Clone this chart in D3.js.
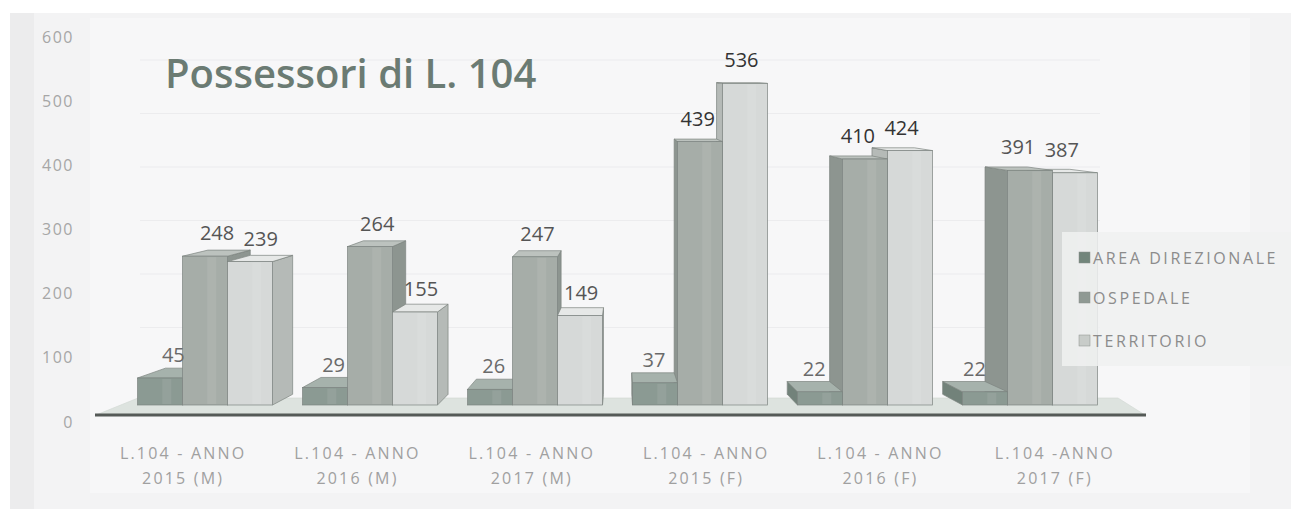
<!DOCTYPE html>
<html><head><meta charset="utf-8">
<script src="https://cdn.jsdelivr.net/npm/d3@7/dist/d3.min.js"></script>
<style>
html,body{margin:0;padding:0;background:#fff;}
svg{display:block;}
</style></head>
<body>
<svg id="chart" width="1291" height="509"></svg>
<script>
// ---- data ----
const categories = ["L.104 - ANNO 2015 (M)","L.104 - ANNO 2016 (M)","L.104 - ANNO 2017 (M)","L.104 - ANNO 2015 (F)","L.104 - ANNO 2016 (F)","L.104 -ANNO 2017 (F)"];
const series = ["AREA DIREZIONALE","OSPEDALE","TERRITORIO"];
const areaDirezionale = [45,29,26,37,22,22];
const ospedale = [248,264,247,439,410,391];
const territorio = [239,155,149,536,424,387];
const yTicks = [0,100,200,300,400,500,600];
const title = "Possessori di L. 104";

const values = [areaDirezionale, ospedale, territorio];
const colors = {
  "AREA DIREZIONALE": {front:"#8b9a93", side:"#72827a", top:"#a6b2ac", legend:"#72857b"},
  "OSPEDALE":         {front:"#a6ada8", side:"#8d9590", top:"#bcc2be", legend:"#8f9993"},
  "TERRITORIO":       {front:"#d6d9d8", side:"#b5bab7", top:"#e6e8e7", legend:"#c8ccc9"}
};

const svg = d3.select("#chart");
const W = 1291, H = 509;

// background (scanned page)
svg.append("rect").attr("x",0).attr("y",0).attr("width",W).attr("height",H).attr("fill","#ffffff");
svg.append("rect").attr("x",10).attr("y",13).attr("width",W-10).attr("height",H-13).attr("fill","#f3f3f4");
svg.append("rect").attr("x",10).attr("y",13).attr("width",24).attr("height",H-13).attr("fill","#ececed");
svg.append("rect").attr("x",90).attr("y",18).attr("width",1160).attr("height",475).attr("fill","#f7f7f8");

// scales
const yAxis = d3.scaleLinear().domain([0,600]).range([422,37]);
const yBar  = d3.scaleLinear().domain([0,600]).range([405,45]);
const yWall = d3.scaleLinear().domain([0,600]).range([381,60]);
const xLabel = d3.scaleBand().domain(categories).range([96,1142]);
const xBar = d3.scaleBand().domain(categories).range([122.5,1112.5]).paddingInner(0.182).paddingOuter(0.091);
const xSeries = d3.scaleBand().domain(series).range([0, xBar.bandwidth()]);

// perspective helpers
const VX = 620, VY = 60, KX = 0.058, KY = 0.031;
const dx = x => KX*(VX - x);
const dy = y => -KY*(y - VY);

// faint back-wall gridlines
svg.append("g").selectAll("line").data(yTicks.filter(t=>t>0)).join("line")
  .attr("x1",140).attr("x2",1100)
  .attr("y1",d=>yWall(d)).attr("y2",d=>yWall(d))
  .attr("stroke","#ececee").attr("stroke-width",1.2);

// floor
const fy0 = 415, fy1 = 398;
svg.append("path")
  .attr("d", d3.line()([[96,fy0],[1145,fy0],[1118,fy1],[138,fy1]]) + "Z")
  .attr("fill","#dde3df").attr("stroke","#d0d6d2").attr("stroke-width",0.6);

// bars
const barG = svg.append("g");
categories.forEach((c, ci) => {
  const bars = series.map((s, si) => {
    const x0 = xBar(c) + xSeries(s);
    const x1 = x0 + xSeries.bandwidth();
    return {c, s, v: values[si][ci], x0, x1, dist: Math.abs((x0+x1)/2 - VX)};
  }).sort((a,b) => b.dist - a.dist);
  bars.forEach(b => {
    const yT = yBar(b.v), yB = yBar(0);
    const col = colors[b.s];
    const g = barG.append("g");
    const sx = dx((b.x0+b.x1)/2) > 0 ? b.x1 : b.x0;
    g.append("path")
      .attr("d", d3.line()([[sx,yT],[sx+dx(sx),yT+dy(yT)],[sx+dx(sx),yB+dy(yB)],[sx,yB]])+"Z")
      .attr("fill",col.side).attr("stroke","#7c8480").attr("stroke-width",0.7);
    g.append("path")
      .attr("d", d3.line()([[b.x0,yT],[b.x1,yT],[b.x1+dx(b.x1),yT+dy(yT)],[b.x0+dx(b.x0),yT+dy(yT)]])+"Z")
      .attr("fill",col.top).attr("stroke","#7c8480").attr("stroke-width",0.7);
    g.append("rect")
      .attr("x",b.x0).attr("y",yT).attr("width",b.x1-b.x0).attr("height",yB-yT)
      .attr("fill",col.front).attr("stroke","#7c8480").attr("stroke-width",0.7);
    g.append("rect")
      .attr("x",b.x0+(b.x1-b.x0)*0.55).attr("y",yT+1).attr("width",(b.x1-b.x0)*0.2).attr("height",Math.max(0,yB-yT-2))
      .attr("fill","#ffffff").attr("opacity",0.08);
  });
});

// axis line (floor front edge)
svg.append("line").attr("x1",95).attr("x2",1146).attr("y1",fy0).attr("y2",fy0)
  .attr("stroke","#555a57").attr("stroke-width",3);

// data labels
const labelG = svg.append("g");
categories.forEach((c, ci) => {
  series.forEach((s, si) => {
    const v = values[si][ci];
    const x0 = xBar(c) + xSeries(s), x1 = x0 + xSeries.bandwidth();
    const cx = (x0+x1)/2;
    labelG.append("text")
      .attr("x", cx + dx(cx)/2)
      .attr("y", yBar(v) - 16)
      .attr("text-anchor","middle")
      .attr("font-family","'Open Sans', sans-serif")
      .attr("font-size",20)
      .attr("fill", si===0 ? "#6a6a6a" : (v>400 ? "#333" : "#555"))
      .text(v);
  });
});

// y tick labels
svg.append("g").selectAll("text").data(yTicks).join("text")
  .attr("x",74).attr("y",d=>yAxis(d)).attr("dy","0.35em")
  .attr("text-anchor","end")
  .attr("font-family","'Open Sans', sans-serif").attr("font-size",16)
  .attr("letter-spacing","1.5px")
  .attr("fill","#a6a6a6")
  .text(d=>d);

// category labels
const catG = svg.append("g");
categories.forEach(c => {
  const m = c.match(/^(.*ANNO) (.*)$/);
  const cx = xLabel(c) + xLabel.bandwidth()/2;
  const t = catG.append("text")
    .attr("text-anchor","middle")
    .attr("font-family","'Open Sans', sans-serif").attr("font-size",16)
    .attr("fill","#a0a0a0").attr("letter-spacing","2.2px");
  t.append("tspan").attr("x",cx).attr("y",459).text(m[1]);
  t.append("tspan").attr("x",cx).attr("y",484).text(m[2]);
});

// title
svg.append("text").attr("x",165).attr("y",88)
  .attr("font-family","'Open Sans', sans-serif").attr("font-weight",600).attr("font-size",40)
  .attr("fill","#6b7b73").text(title);

// legend
svg.append("rect").attr("x",1062).attr("y",232).attr("width",229).attr("height",134).attr("fill","#f0f1f1").attr("opacity",0.85);
const legG = svg.append("g");
const legY = [258, 298, 341];
series.forEach((s, i) => {
  legG.append("rect").attr("x",1079).attr("y",legY[i]-6).attr("width",11).attr("height",11)
    .attr("fill",colors[s].legend).attr("stroke","#8a918d").attr("stroke-width",0.5);
  legG.append("text").attr("x",1093).attr("y",legY[i]).attr("dy","0.35em")
    .attr("font-family","'Open Sans', sans-serif").attr("font-size",16)
    .attr("fill","#8c8c8c").attr("letter-spacing","2.6px")
    .text(s);
});
</script>
</body></html>
